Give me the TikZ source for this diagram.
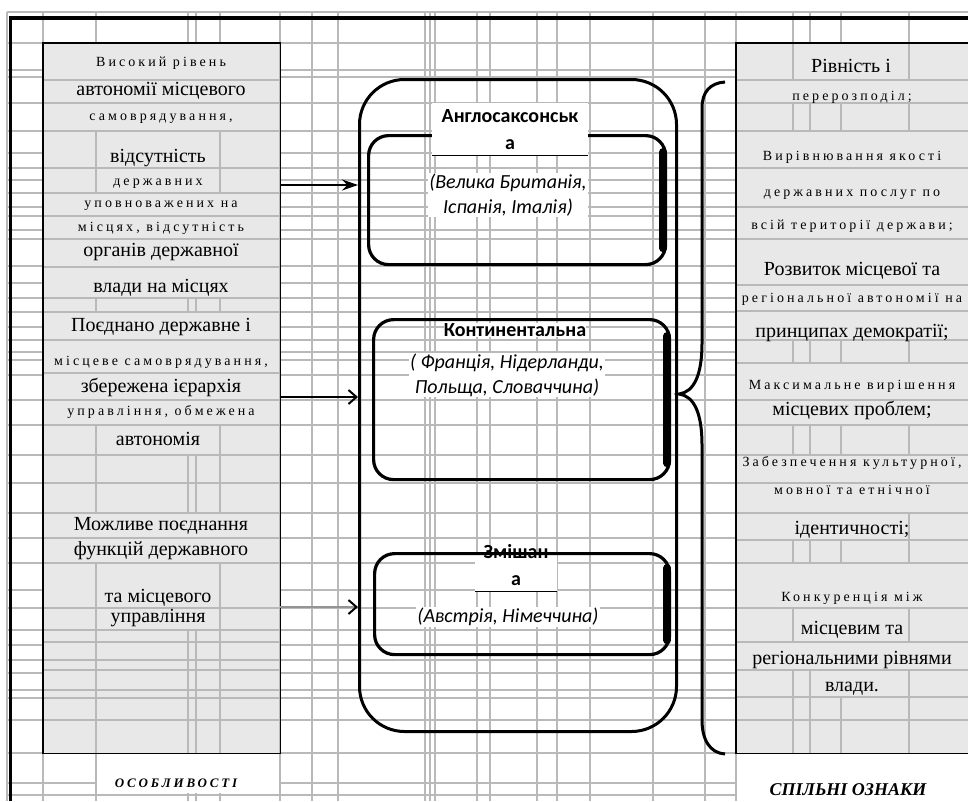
\documentclass[tikz,border=0pt]{standalone}
\usepackage{fontspec}
\setmainfont{Liberation Serif}
\newfontfamily\calibri{Carlito}
\newfontfamily\spacedserif[LetterSpace=22]{Liberation Serif}
\usetikzlibrary{arrows.meta,positioning}

\definecolor{panelgray}{HTML}{E8E8E8}
\definecolor{gridgray}{HTML}{B9B9B9}

\begin{document}
\begin{tikzpicture}[
    x=1pt, y=-1pt,
    gridline/.style={gridgray, line width=1.3pt},
    panel/.style={rectangle, fill=panelgray, inner sep=0pt, anchor=north west},
    plain/.style={font=\fontsize{20}{22}\selectfont, inner sep=0pt, text height=9pt, text depth=0pt},
    spaced/.style={font=\spacedserif\fontsize{14}{16}\selectfont, inner sep=0pt, text height=6.5pt, text depth=0pt},
    typebox/.style={rectangle, draw, line width=3.2pt, rounded corners=20pt, anchor=north west},
    typename/.style={font=\calibri\bfseries\fontsize{20}{27}\selectfont, align=center, inner sep=1pt},
    countries/.style={font=\calibri\itshape\fontsize{20}{25}\selectfont, align=center, fill=white, inner sep=1pt},
    edgebar/.style={line width=8pt, line cap=round},
    caption/.style={inner sep=0pt}
]
    \useasboundingbox (0,0) rectangle (968,801);

    % Panels
    \node[panel, minimum width=237pt, minimum height=710pt] (features) at (43,43) {};
    \node[panel, minimum width=232pt, minimum height=710pt] (common) at (736,43) {};

    % Sheet grid
    \foreach \x in {7,43,96,188,196,220,280,312,338,425,430,435,477,490,537,557,590,653,705,736,793,810,841,909}
        \draw[gridline] (\x,12) -- (\x,801);
    \foreach \xa/\ya/\xb/\yb in {44/44/279/131, 97/131/219/193, 44/193/279/298, 44/312/279/425, 97/425/219/455,
        44/513/279/563, 97/563/219/630, 794/44/908/80, 737/80/968/103, 737/131/968/340, 737/363/968/425,
        737/455/968/513, 737/513/908/540, 737/563/968/608, 794/608/908/642, 737/642/968/670, 811/670/908/697}
        \fill[panelgray] (\xa,\ya) rectangle (\xb,\yb);
    \draw[gridline] (7,12) -- (968,12);
    \foreach \y in {43,70,77,103,131,153,168,180,193,207,216,230,239,266,283,298,312,327,340,352,360,375,400,
        425,455,483,513,538,563,590,608,630,645,660,673,690,698,720,753,783,795} {
        \draw[gridline] (7,\y) -- (43,\y);
        \draw[gridline] (280,\y) -- (736,\y);
    }
    \foreach \y in {80,103,131,168,193,216,239,267,298,312,340,373,400,425,455,483,513,538,563,608,630,642,
        660,670,690,698,720,783,795}
        \draw[gridline] (43,\y) -- (280,\y);
    \foreach \y in {80,103,131,168,207,239,285,311,340,363,400,425,455,483,513,540,563,608,642,670,697,720}
        \draw[gridline] (736,\y) -- (968,\y);
    \fill[white] (97,754) rectangle (279,793);
    \fill[white] (737,754) rectangle (968,801);

    % Borders
    \draw[line width=4pt] (9,17.5) -- (968,17.5);
    \draw[line width=3pt] (10.5,16) -- (10.5,801);
    \draw[line width=1.2pt] (features.north west) rectangle (features.south east);
    \draw[line width=1.2pt] (common.north east) -- (common.north west) -- (common.south west) -- (common.south east);

    % Types
    \node[rectangle, draw, line width=3pt, rounded corners=45pt, minimum width=317pt, minimum height=652pt,
        anchor=north west] (types) at (358,78) {};

    \node[typebox, minimum width=297pt, minimum height=129pt] (anglo) at (367,134) {};
    \draw[edgebar] ([shift={(-4,18)}]anglo.north east) -- ([shift={(-4,-18)}]anglo.south east);
    \node[typename, fill=white, minimum width=156pt, minimum height=52pt, anchor=north] (angloname) at (510,103)
        {Англосаксонськ\\а};
    \draw[line width=1pt] (angloname.south west) -- (angloname.south east);
    \node[countries] (anglolist) at (508,195) {(Велика Британія,\\Іспанія, Італія)};

    \node[typebox, minimum width=296pt, minimum height=160pt] (cont) at (372,318) {};
    \draw[edgebar] ([shift={(-4,18)}]cont.north east) -- ([shift={(-4,-18)}]cont.south east);
    \node[typename, fill=white, inner sep=0pt] (contname) at (515,330) {Континентальна};
    \node[countries] (contlist) at (507,375) {( Франція, Нідерланди,\\Польща, Словаччина)};

    \fill[white] (475,553) rectangle (557,591);
    \node[typebox, minimum width=295pt, minimum height=101pt] (mixed) at (373,552) {};
    \draw[edgebar] ([shift={(-4,16)}]mixed.north east) -- ([shift={(-4,-16)}]mixed.south east);
    \node[typename] (mixedname) at (516,565) {Змішан\\а};
    \draw[line width=1pt] (475,591) -- (557,591);
    \node[countries] (mixedlist) at (508,617) {(Австрія, Німеччина)};

    % Arrows
    \coordinate (lvlA) at (0,185);
    \coordinate (lvlB) at (0,397);
    \coordinate (lvlC) at (0,607);
    \draw[line width=1.8pt, -{Stealth[length=16pt, width=11pt]}] (features.east |- lvlA) -- (types.west |- lvlA);
    \draw[line width=1.8pt, -{Straight Barb[length=8pt, width=14pt, line width=2pt]}] (features.east |- lvlB) -- (types.west |- lvlB);
    \draw[gridgray!80!black, line width=2.5pt, -{Straight Barb[length=8pt, width=14pt, line width=2pt, color=black]}]
        (features.east |- lvlC) -- (types.west |- lvlC);

    % Brace
    \coordinate (bracetip) at (679,394);
    \draw[line width=3pt] (725,82) .. controls (710,83) and (702,92) .. (702,108) -- (702,343)
        .. controls (702,375) and (694,392) .. (bracetip) .. controls (694,396) and (702,413) .. (702,445)
        -- (702,720) .. controls (702,740) and (710,753) .. (725,754);

    % Features
    \node[spaced] (f1) at (161,63) {Високий рівень};
    \node[plain] (f2) at (161,91) {автономії місцевого};
    \node[spaced] (f3) at (161,117) {самоврядування,};
    \node[plain] (f4) at (158,158) {відсутність};
    \node[spaced] (f5) at (158,182) {державних};
    \node[spaced] (f6) at (161,204) {уповноважених на};
    \node[spaced] (f7) at (161,228) {місцях, відсутність};
    \node[plain] (f8) at (161,252) {органів державної};
    \node[plain] (f9) at (161,288) {влади на місцях};
    \node[plain] (f10) at (161,327) {Поєднано державне і};
    \node[spaced] (f11) at (161,362) {місцеве самоврядування,};
    \node[plain] (f12) at (161,388) {збережена ієрархія};
    \node[spaced] (f13) at (161,412) {управління, обмежена};
    \node[plain] (f14) at (158,441) {автономія};
    \node[plain] (f15) at (161,526) {Можливе поєднання};
    \node[plain] (f16) at (161,551) {функцій державного};
    \node[plain] (f17) at (158,598) {та місцевого};
    \node[plain] (f18) at (158,618) {управління};
    \node[caption, font=\spacedserif\bfseries\itshape\fontsize{13}{15}\selectfont] (featcap) at (176,783) {ОСОБЛИВОСТІ};

    % Common traits
    \node[plain] (c1) at (851,68) {Рівність і};
    \node[spaced] (c2) at (852,97) {перерозподіл;};
    \node[spaced] (c3) at (852,157) {Вирівнювання якості};
    \node[spaced] (c4) at (852,193) {державних послуг по};
    \node[spaced] (c5) at (852,226) {всій території держави;};
    \node[plain] (c6) at (852,271) {Розвиток місцевої та};
    \node[spaced] (c7) at (852,299) {регіональної автономії на};
    \node[plain] (c8) at (852,333) {принципах демократії;};
    \node[spaced] (c9) at (852,386) {Максимальне вирішення};
    \node[plain] (c10) at (852,411) {місцевих проблем;};
    \node[spaced] (c11) at (852,463) {Забезпечення культурної,};
    \node[spaced] (c12) at (852,491) {мовної та етнічної};
    \node[plain] (c13) at (852,530) {ідентичності;};
    \node[spaced] (c14) at (852,598) {Конкуренція між};
    \node[plain] (c15) at (852,630) {місцевим та};
    \node[plain] (c16) at (852,660) {регіональними рівнями};
    \node[plain] (c17) at (852,687) {влади.};
    \node[caption, font=\bfseries\itshape\fontsize{18}{20}\selectfont] (commoncap) at (848,790) {СПІЛЬНІ ОЗНАКИ};
\end{tikzpicture}
\end{document}
